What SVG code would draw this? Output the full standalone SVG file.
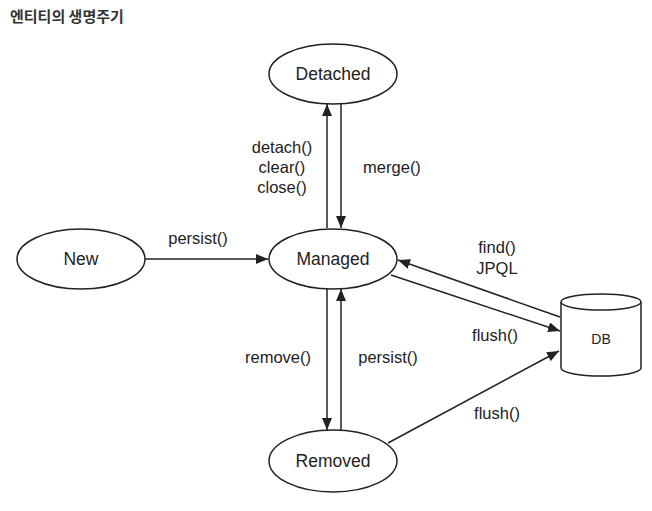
<svg xmlns="http://www.w3.org/2000/svg" width="652" height="511" viewBox="0 0 652 511">
<defs>
<style>
.node ellipse{fill:#fff;stroke:#222;stroke-width:1.5}
.nl{font-family:"Liberation Sans",Arial,sans-serif;font-size:17.5px;fill:#222;text-anchor:middle;dominant-baseline:central}
.el{font-family:"Liberation Sans",Arial,sans-serif;font-size:16.5px;fill:#222;text-anchor:middle;dominant-baseline:central}
.edge{stroke:#222;stroke-width:1.5;fill:none;marker-end:url(#ah)}
.title{font-family:"Noto Sans CJK KR","Noto Sans",sans-serif;font-size:15px;font-weight:bold;fill:#333}
</style>
<marker id="ah" viewBox="0 0 12 10" refX="12" refY="5" markerWidth="12" markerHeight="10" markerUnits="userSpaceOnUse" orient="auto">
<path d="M0,0 L12,5 L0,10 Z" fill="#222"/>
</marker>
</defs>
<rect width="652" height="511" fill="#fff"/>
<text class="title" x="10" y="22">엔티티의 생명주기</text>

<g id="connectors">
<line class="edge" x1="145" y1="259" x2="268" y2="259"/>
<line class="edge" x1="327" y1="228" x2="327" y2="104"/>
<line class="edge" x1="341" y1="104" x2="341" y2="228"/>
<line class="edge" x1="327" y1="289" x2="327" y2="430"/>
<line class="edge" x1="341" y1="430" x2="341" y2="289"/>
<line class="edge" x1="391" y1="275" x2="560" y2="331"/>
<line class="edge" x1="560" y1="317" x2="398" y2="260"/>
<line class="edge" x1="388" y1="443" x2="559" y2="351"/>
<text class="el" x="198" y="238">persist()</text>
<text class="el" x="282" y="147">detach()</text>
<text class="el" x="282" y="167">clear()</text>
<text class="el" x="282" y="187">close()</text>
<text class="el" x="392" y="167">merge()</text>
<text class="el" x="278" y="357">remove()</text>
<text class="el" x="388" y="357">persist()</text>
<text class="el" x="497" y="247">find()</text>
<text class="el" x="497" y="268">JPQL</text>
<text class="el" x="495" y="335">flush()</text>
<text class="el" x="497" y="413">flush()</text>
</g>

<g id="detached" class="node">
<ellipse cx="333" cy="74" rx="64" ry="30"/>
<text class="nl" x="333" y="74">Detached</text>
</g>
<g id="new" class="node">
<ellipse cx="81" cy="259" rx="64" ry="30"/>
<text class="nl" x="81" y="259">New</text>
</g>
<g id="managed" class="node">
<ellipse cx="333" cy="259" rx="64" ry="30"/>
<text class="nl" x="333" y="259">Managed</text>
</g>
<g id="removed" class="node">
<ellipse cx="333" cy="461" rx="64" ry="31"/>
<text class="nl" x="333" y="461">Removed</text>
</g>
<g id="db">
<path d="M561,302 L561,368 A40,8 0 0 0 641,368 L641,302" fill="#fff" stroke="#222" stroke-width="1.5"/>
<ellipse cx="601" cy="302" rx="40" ry="8" fill="#fff" stroke="#222" stroke-width="1.5"/>
<text x="601" y="339" font-family="Liberation Sans,Arial,sans-serif" font-size="14" fill="#222" text-anchor="middle" dominant-baseline="central">DB</text>
</g>
</svg>
